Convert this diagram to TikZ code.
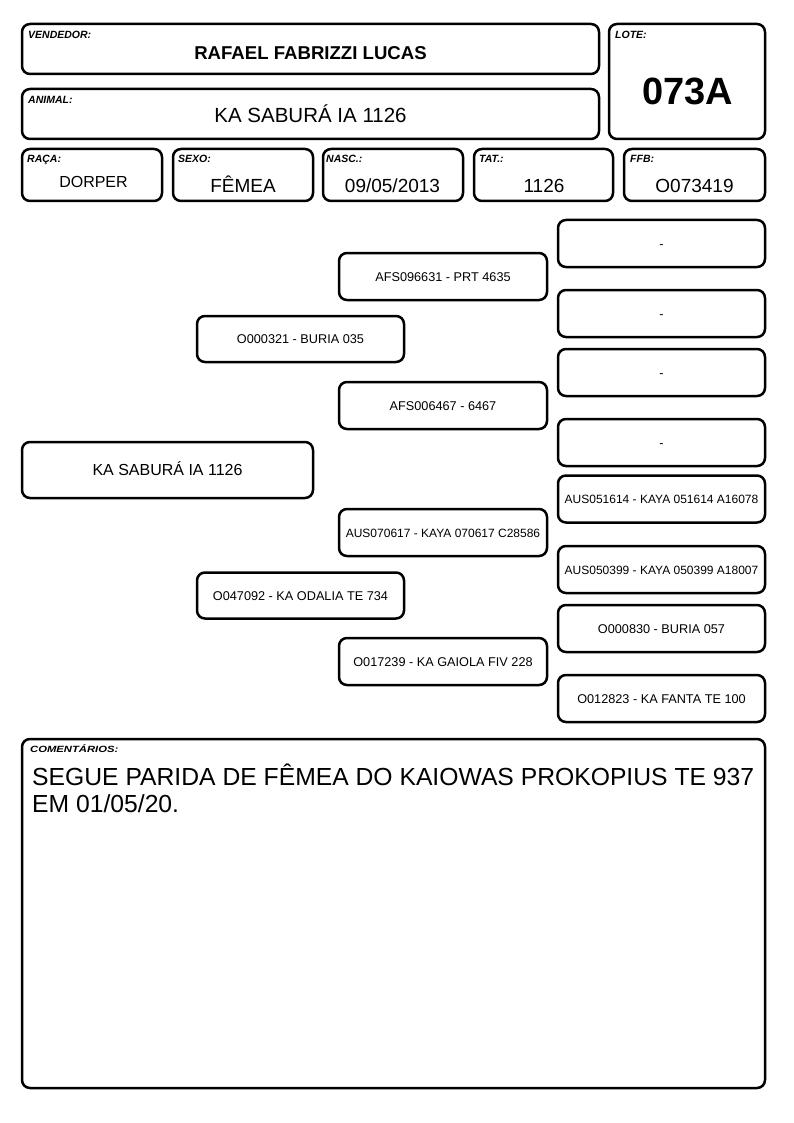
\documentclass[tikz,border=0pt]{standalone}
\usepackage{fontspec}
\setmainfont{Liberation Sans}
\usetikzlibrary{positioning}

\newcommand{\tam}[1]{\fontsize{#1}{#1}\selectfont}

\begin{document}
\begin{tikzpicture}[x=1pt, y=-1pt,
    caixa/.style={draw, rounded corners=8pt, line width=2.5pt, inner sep=0pt},
    rotulo/.style={anchor=base west, inner sep=0pt, font=\bfseries\itshape\tam{10.5}},
    valor/.style={anchor=base, inner sep=0pt, font=\tam{19}},
    ped/.style={caixa, align=center, text height=9.1pt, text depth=0pt, font=\tam{12.7}},
    ped2/.style={ped, minimum width=207pt, minimum height=46pt},
    ped3/.style={ped, minimum width=208pt, minimum height=47pt},
    ped4/.style={ped, minimum width=207pt, minimum height=47pt}]

        \useasboundingbox (0,0) rectangle (794,1123);

        % 1. Vendedor, Animal & Lote
        \node[caixa, minimum width=577pt, minimum height=50pt] (vendedor) at (310.5,49) {};
        \node[rotulo] (vendedorR) at (28,39) {VENDEDOR:};
        \node[valor, font=\bfseries\tam{18.6}] (vendedorV) at (310.5,60) {RAFAEL FABRIZZI LUCAS};

        \node[caixa, minimum width=577pt, minimum height=50pt] (animal) at (310.5,114) {};
        \node[rotulo] (animalR) at (28,104) {ANIMAL:};
        \node[valor, font=\tam{20.5}] (animalV) at (310.5,123) {KA SABURÁ IA 1126};

        \node[caixa, minimum width=156pt, minimum height=115pt] (lote) at (687,81.5) {};
        \node[rotulo] (loteR) at (615,39) {LOTE:};
        \node[valor, font=\bfseries\tam{38}] (loteV) at (687.5,105) {073A};

        % 2. Raca / Sexo / Nasc. / Tat. / FFB row
        \node[caixa, minimum width=140pt, minimum height=52pt] (raca) at (92,175) {};
        \node[rotulo] (racaR) at (27,163) {RAÇA:};
        \node[valor, font=\tam{16}] (racaV) at (93.5,188) {DORPER};

        \node[caixa, minimum width=140pt, minimum height=52pt] (sexo) at (243,175) {};
        \node[rotulo] (sexoR) at (178,163) {SEXO:};
        \node[valor] (sexoV) at (243,193) {FÊMEA};

        \node[caixa, minimum width=140pt, minimum height=52pt] (nasc) at (393,175) {};
        \node[rotulo] (nascR) at (326,163) {NASC.:};
        \node[valor] (nascV) at (392.5,193) {09/05/2013};

        \node[caixa, minimum width=139pt, minimum height=52pt] (tat) at (543.5,175) {};
        \node[rotulo] (tatR) at (479,163) {TAT.:};
        \node[valor] (tatV) at (544,193) {1126};

        \node[caixa, minimum width=141pt, minimum height=52pt] (ffb) at (694.5,175) {};
        \node[rotulo] (ffbR) at (630,163) {FFB:};
        \node[valor] (ffbV) at (694.5,193) {O073419};

        % 3. Pedigree: animal, pais, avos, bisavos
        \node[ped, minimum width=291pt, minimum height=56pt, font=\tam{16}, text height=11.5pt] (sujeito) at (167.5,470) {KA SABURÁ IA 1126};

        \node[ped2] (pai) at (300.5,339) {O000321 - BURIA 035};
        \node[ped2] (mae) at (300.5,595.5) {O047092 - KA ODALIA TE 734};

        \node[ped3] (avoPP) at (443,276.5) {AFS096631 - PRT 4635};
        \node[ped3] (avoPM) at (443,405.5) {AFS006467 - 6467};
        \node[ped3, font=\tam{12}] (avoMP) at (443,532.5) {AUS070617 - KAYA 070617 C28586};
        \node[ped3] (avoMM) at (443,661.5) {O017239 - KA GAIOLA FIV 228};

        \node[ped4] (bis1) at (661.5,243.5) {-};
        \node[ped4] (bis2) at (661.5,313.5) {-};
        \node[ped4] (bis3) at (661.5,372.5) {-};
        \node[ped4] (bis4) at (661.5,442.5) {-};
        \node[ped4, font=\tam{12}] (bis5) at (661.5,499) {AUS051614 - KAYA 051614 A16078};
        \node[ped4, font=\tam{12}] (bis6) at (661.5,569.5) {AUS050399 - KAYA 050399 A18007};
        \node[ped4] (bis7) at (661.5,628.5) {O000830 - BURIA 057};
        \node[ped4] (bis8) at (661.5,698.5) {O012823 - KA FANTA TE 100};

        % 4. Comentarios
        \node[caixa, minimum width=743pt, minimum height=349pt] (coment) at (393.5,913.5) {};
        \node[rotulo, font=\bfseries\itshape\tam{9}\addfontfeature{FakeStretch=1.25}] (comentR) at (30,752) {COMENTÁRIOS:};
        % base of a two-line node = baseline of its last line
        \node[anchor=base west, inner sep=0pt, align=left, font=\fontsize{24.7}{27}\selectfont] (comentV) at (32,812)
            {SEGUE PARIDA DE FÊMEA DO KAIOWAS PROKOPIUS TE 937\\EM 01/05/20.};

    \end{tikzpicture}
\end{document}
